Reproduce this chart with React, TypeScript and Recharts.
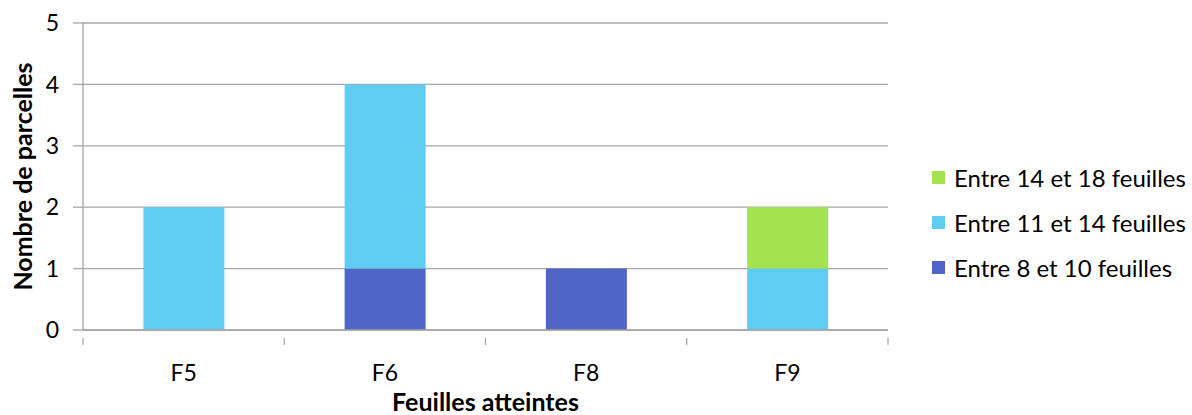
import { Bar, BarChart, CartesianGrid, Label, XAxis, YAxis } from "recharts";

// leaf stage reached, per plot
const categories = ["F5", "F6", "F8", "F9"];
const entre8et10 = [0, 1, 1, 0];
const entre11et14 = [2, 3, 0, 1];
const entre14et18 = [0, 0, 0, 1];
const yTicks = [0, 1, 2, 3, 4, 5];

const series = [
  { key: "s8", name: "Entre 8 et 10 feuilles", color: "#4F66C8", values: entre8et10 },
  { key: "s11", name: "Entre 11 et 14 feuilles", color: "#5FCDF2", values: entre11et14 },
  { key: "s14", name: "Entre 14 et 18 feuilles", color: "#A3E34F", values: entre14et18 },
];

const data = categories.map((cat, i) => {
  const row: Record<string, string | number> = { cat };
  series.forEach((s) => (row[s.key] = s.values[i]));
  return row;
});

if (typeof document !== "undefined") document.body.style.margin = "0";

const FONT = "Lato, 'Open Sans', sans-serif";
const GRID = "#A6A6A6";

function CategoryTick(props: any) {
  const { x, y, payload, index, visibleTicksCount, width } = props;
  const band = (width || 805) / (visibleTicksCount || 4);
  const left = x - band / 2;
  return (
    <g>
      <line x1={left} x2={left} y1={y} y2={y + 7} stroke={GRID} strokeWidth={1.3} />
      {index === visibleTicksCount - 1 && (
        <line x1={left + band} x2={left + band} y1={y} y2={y + 7} stroke={GRID} strokeWidth={1.3} />
      )}
      <text x={x} y={y + 43} textAnchor="middle" fontSize={23} fill="#000" fontFamily={FONT}>
        {payload.value}
      </text>
    </g>
  );
}

export default function App() {
  return (
    <div style={{ position: "relative", width: 1192, height: 415, background: "#fff" }}>
      <BarChart
        width={1192}
        height={415}
        data={data}
        margin={{ top: 23, right: 304, left: 0, bottom: 0 }}
        barCategoryGap="30%"
      >
        <CartesianGrid vertical={false} stroke={GRID} strokeWidth={1.3} />
        <XAxis
          dataKey="cat"
          height={85}
          axisLine={{ stroke: GRID, strokeWidth: 1.3 }}
          tickLine={false}
          tick={<CategoryTick />}
          interval={0}
        >
          <Label
            value="Feuilles atteintes"
            position="insideBottom"
            offset={4}
            style={{ fontFamily: FONT, fontSize: 25, fontWeight: 700, fill: "#000" }}
          />
        </XAxis>
        <YAxis
          width={83}
          domain={[0, 5]}
          ticks={yTicks}
          interval={0}
          axisLine={{ stroke: GRID, strokeWidth: 1.3 }}
          tickLine={{ stroke: GRID, strokeWidth: 1.3 }}
          tickSize={10}
          tickMargin={14}
          tick={{ fontSize: 23, fill: "#000", fontFamily: FONT }}
        >
          <Label
            value="Nombre de parcelles"
            angle={-90}
            position="insideLeft"
            offset={23}
            style={{ textAnchor: "middle", fontFamily: FONT, fontSize: 25, fontWeight: 700, fill: "#000" }}
          />
        </YAxis>
        {series.map((s) => (
          <Bar
            key={s.key}
            dataKey={s.key}
            name={s.name}
            stackId="a"
            fill={s.color}
            isAnimationActive={false}
          />
        ))}
      </BarChart>
      <div
        style={{
          position: "absolute",
          left: 932,
          top: 155,
          fontFamily: FONT,
          fontSize: 24,
          color: "#000",
        }}
      >
        {[...series].reverse().map((s) => (
          <div key={s.key} style={{ display: "flex", alignItems: "center", height: 45 }}>
            <span style={{ width: 13, height: 13, background: s.color, marginRight: 9 }} />
            <span>{s.name}</span>
          </div>
        ))}
      </div>
    </div>
  );
}
